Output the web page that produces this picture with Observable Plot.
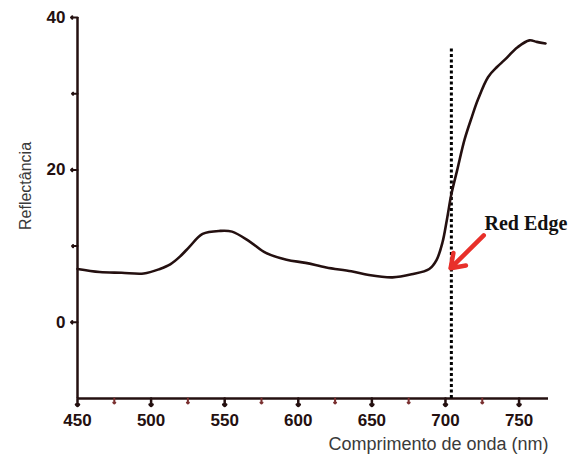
<!DOCTYPE html>
<html>
<head>
<meta charset="utf-8">
<script src="https://cdn.jsdelivr.net/npm/d3@7"></script>
<script src="https://cdn.jsdelivr.net/npm/@observablehq/plot@0.6"></script>
<style>
  html, body { margin: 0; padding: 0; background: #fff; }
  svg { display: block; }
</style>
</head>
<body>
<div id="chart"></div>
<script>
const wavelength = [450, 465, 480, 495, 506, 513, 520, 526, 535, 547, 555, 567, 578, 592, 605, 619, 636, 648, 664, 677, 689, 694, 698, 701, 704, 708, 713, 718, 722, 729, 735, 740, 749, 757, 762, 768];
const reflectance = [7.0, 6.6, 6.5, 6.4, 7.0, 7.6, 8.7, 9.9, 11.6, 12.0, 11.9, 10.6, 9.1, 8.2, 7.8, 7.2, 6.7, 6.2, 5.9, 6.3, 7.0, 8.2, 10.5, 13.5, 16.8, 20.0, 24.0, 27.0, 29.2, 32.2, 33.5, 34.4, 36.1, 37.0, 36.8, 36.6];
const xMajorTicks = [450, 500, 550, 600, 650, 700, 750];
const xMinorTicks = [475, 525, 575, 625, 675, 725];
const yMajorTicks = [0, 20, 40];
const yMinorTicks = [10, 30];
const redEdge = [704];
const redEdgeTop = [36];
const arrowFrom = {x: 726, y: 11.4};
const arrowTo = {x: 703.5, y: 7.1};
const labelPos = {x: 726.5, y: 13.0, text: "Red Edge"};

const xDomain = [450, 770];
const yDomain = [-10, 40];
const data = wavelength.map((w, i) => ({w, r: reflectance[i]}));
const ink = "#241010";
const sans = "Liberation Sans, Arial, sans-serif";
const W = 571, H = 462, ML = 77, MR = 23, MT = 17, MB = 64;

const plot = Plot.plot({
  width: W,
  height: H,
  marginLeft: ML,
  marginRight: MR,
  marginTop: MT,
  marginBottom: MB,
  x: {type: "linear", domain: xDomain},
  y: {type: "linear", domain: yDomain},
  style: {background: "#fff"},
  marks: [
    Plot.axisX({ticks: xMajorTicks, tickSize: 0, tickPadding: 15, fontSize: 17, fontWeight: "bold", fontFamily: sans, fill: ink, label: null}),
    Plot.axisY({ticks: yMajorTicks, tickSize: 0, tickPadding: 12, fontSize: 17, fontWeight: "bold", fontFamily: sans, fill: ink, label: null}),
    Plot.ruleX([xDomain[0]], {y1: yDomain[0], y2: yDomain[1], stroke: ink, strokeWidth: 2.5}),
    Plot.ruleY([yDomain[0]], {x1: xDomain[0], x2: xDomain[1], stroke: ink, strokeWidth: 2.5}),
    Plot.ruleX(redEdge, {x: d => d, y1: yDomain[0], y2: redEdgeTop[0], stroke: "#000", strokeWidth: 3, strokeDasharray: "3,2.5"}),
    Plot.line(data, {x: "w", y: "r", stroke: ink, strokeWidth: 2.6, curve: "catmull-rom"}),
    Plot.arrow([{x1: arrowFrom.x, y1: arrowFrom.y, x2: arrowTo.x, y2: arrowTo.y}], {x1: "x1", y1: "y1", x2: "x2", y2: "y2", stroke: "#e8302a", strokeWidth: 4.5, headLength: 13, headAngle: 70, bend: 0}),
    Plot.text([labelPos], {x: "x", y: "y", text: "text", textAnchor: "start", fontFamily: "Liberation Serif, Times New Roman, serif", fontWeight: "bold", fontSize: 20, fill: "#111"}),
    Plot.text(["Comprimento de onda (nm)"], {frameAnchor: "bottom-right", dy: 51, textAnchor: "end", fontSize: 18, fontFamily: sans, fill: "#3a3a3a"}),
    Plot.text(["Reflectância"], {frameAnchor: "left", dx: -52, dy: -22, rotate: -90, textAnchor: "middle", fontSize: 16, fontFamily: sans, fill: "#3a3a3a"}),
    // tick marks drawn as short vector glyphs anchored at the axis lines
    Plot.vector(xMajorTicks, {x: d => d, y: yDomain[0], length: 7.5, rotate: 180, anchor: "start", stroke: ink, strokeWidth: 2.5}),
    Plot.vector(xMinorTicks, {x: d => d, y: yDomain[0], length: 5, rotate: 180, anchor: "start", stroke: "#7a3030", strokeWidth: 2}),
    Plot.vector(yMajorTicks, {x: xDomain[0], y: d => d, length: 6.5, rotate: 270, anchor: "start", stroke: ink, strokeWidth: 2}),
    Plot.vector(yMinorTicks, {x: xDomain[0], y: d => d, length: 5.5, rotate: 270, anchor: "start", stroke: ink, strokeWidth: 2})
  ]
});
document.getElementById("chart").appendChild(plot);
</script>
</body>
</html>
